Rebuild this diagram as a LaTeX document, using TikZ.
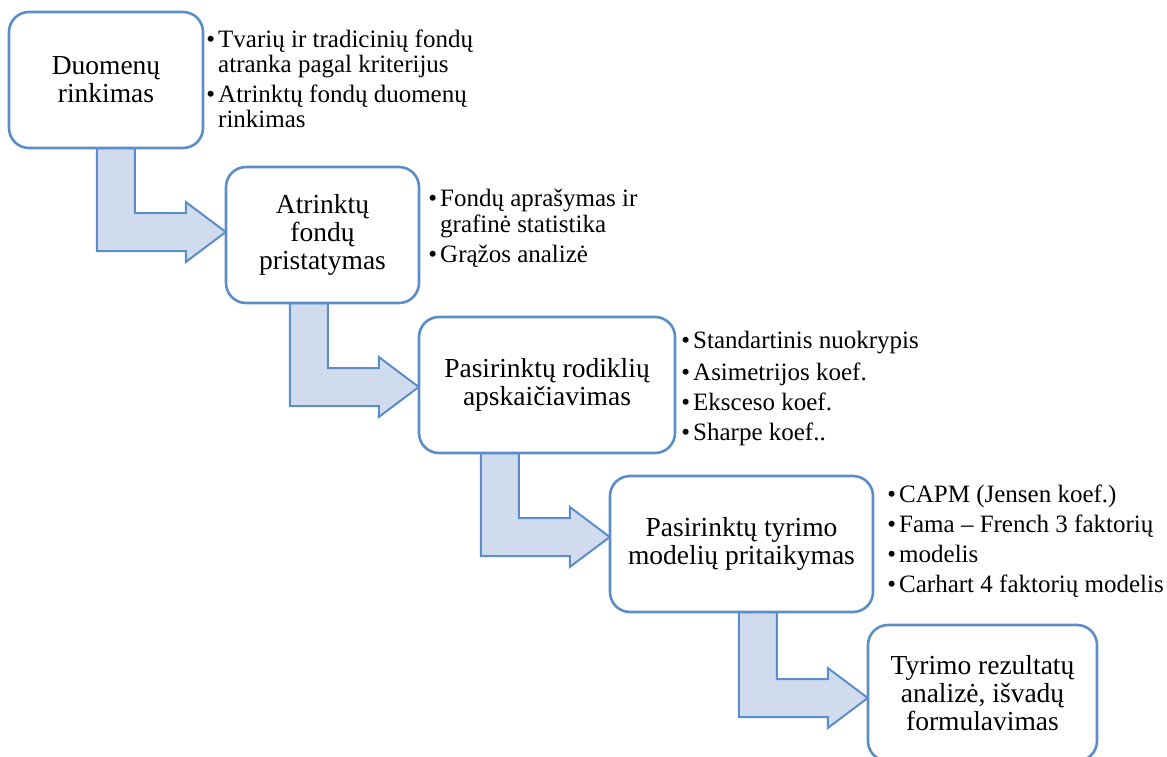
\documentclass[tikz,border=0pt]{standalone}
\usepackage{fontspec}
\setmainfont{Liberation Serif}
\usetikzlibrary{calc}
\definecolor{bordblue}{HTML}{5B8EC8}
\definecolor{arrfill}{HTML}{D0DBEE}
\tikzset{
  stagebox/.style={draw=bordblue, line width=2.6pt, fill=white, rounded corners=20pt,
    align=center, inner sep=0pt, font=\fontsize{27.5}{28}\selectfont},
  bulletline/.style={anchor=base west, inner sep=0pt, font=\fontsize{25}{25}\selectfont},
  bentarrowstyle/.style={draw=bordblue, line width=2pt, fill=arrfill, line join=miter}
}
\newcommand\bentarrow[3]{%
  \path (#2.west) ++(0,#3) coordinate (tip#1);
  \draw[bentarrowstyle] let \p1=(tip#1), \p2=(#1.south) in
    (\x1-129pt,\y2) -- (\x1-91pt,\y2) -- (\x1-91pt,\y1+19pt) -- (\x1-40pt,\y1+19pt)
    -- (\x1-40pt,\y1+30pt) -- (tip#1) -- (\x1-40pt,\y1-30pt) -- (\x1-40pt,\y1-19pt)
    -- (\x1-129pt,\y1-19pt) -- cycle;
}
\newcommand\bul{\llap{•\hspace{3pt}}}
\begin{document}
\begin{tikzpicture}[x=1pt,y=-1pt]
\clip (0,0) rectangle (1167,757);
% boxes (positions)
\path[use as bounding box] (0,0) rectangle (1167,757);
\coordinate (c1) at (106,80);
\coordinate (c2) at (322.5,235);
\coordinate (c3) at (547,385);
\coordinate (c4) at (741.5,544);
\coordinate (c5) at (982.5,693);
% invisible placeholders for arrow geometry
\path (c1) node[minimum width=194pt, minimum height=136pt, inner sep=0pt] (b1) {};
\path (c2) node[minimum width=193pt, minimum height=136pt, inner sep=0pt] (b2) {};
\path (c3) node[minimum width=256pt, minimum height=136pt, inner sep=0pt] (b3) {};
\path (c4) node[minimum width=263pt, minimum height=136pt, inner sep=0pt] (b4) {};
\path (c5) node[minimum width=229pt, minimum height=136pt, inner sep=0pt] (b5) {};
% arrows
\bentarrow{b1}{b2}{-3}
\bentarrow{b2}{b3}{2}
\bentarrow{b3}{b4}{-7}
\bentarrow{b4}{b5}{5}
% boxes
\node[stagebox, minimum width=194pt, minimum height=136pt] (s1) at (c1) {Duomenų\\rinkimas};
\node[stagebox, minimum width=193pt, minimum height=136pt] (s2) at (c2) {Atrinktų\\fondų\\pristatymas};
\node[stagebox, minimum width=256pt, minimum height=136pt] (s3) at (c3) {Pasirinktų rodiklių\\apskaičiavimas};
\node[stagebox, minimum width=263pt, minimum height=136pt] (s4) at (c4) {Pasirinktų tyrimo\\modelių pritaikymas};
\node[stagebox, minimum width=229pt, minimum height=136pt] (s5) at (c5) {Tyrimo rezultatų\\analizė, išvadų\\formulavimas};
% bullet lists
\node[bulletline] (t11) at (218,48) {\bul Tvarių ir tradicinių fondų};
\node[bulletline] (t12) at (218,73) {atranka pagal kriterijus};
\node[bulletline] (t13) at (218,103) {\bul Atrinktų fondų duomenų};
\node[bulletline] (t14) at (218,128) {rinkimas};
\node[bulletline] (t21) at (440,206) {\bul Fondų aprašymas ir};
\node[bulletline] (t22) at (440,232) {grafinė statistika};
\node[bulletline] (t23) at (440,262) {\bul Grąžos analizė};
\node[bulletline] (t31) at (693,348) {\bul Standartinis nuokrypis};
\node[bulletline] (t32) at (693,380) {\bul Asimetrijos koef.};
\node[bulletline] (t33) at (693,410) {\bul Eksceso koef.};
\node[bulletline] (t34) at (693,440) {\bul Sharpe koef..};
\node[bulletline] (t41) at (899,502) {\bul CAPM (Jensen koef.)};
\node[bulletline] (t42) at (899,532) {\bul Fama – French 3 faktorių};
\node[bulletline] (t43) at (899,562) {\bul modelis};
\node[bulletline] (t44) at (899,592) {\bul Carhart 4 faktorių modelis};
\end{tikzpicture}
\end{document}
